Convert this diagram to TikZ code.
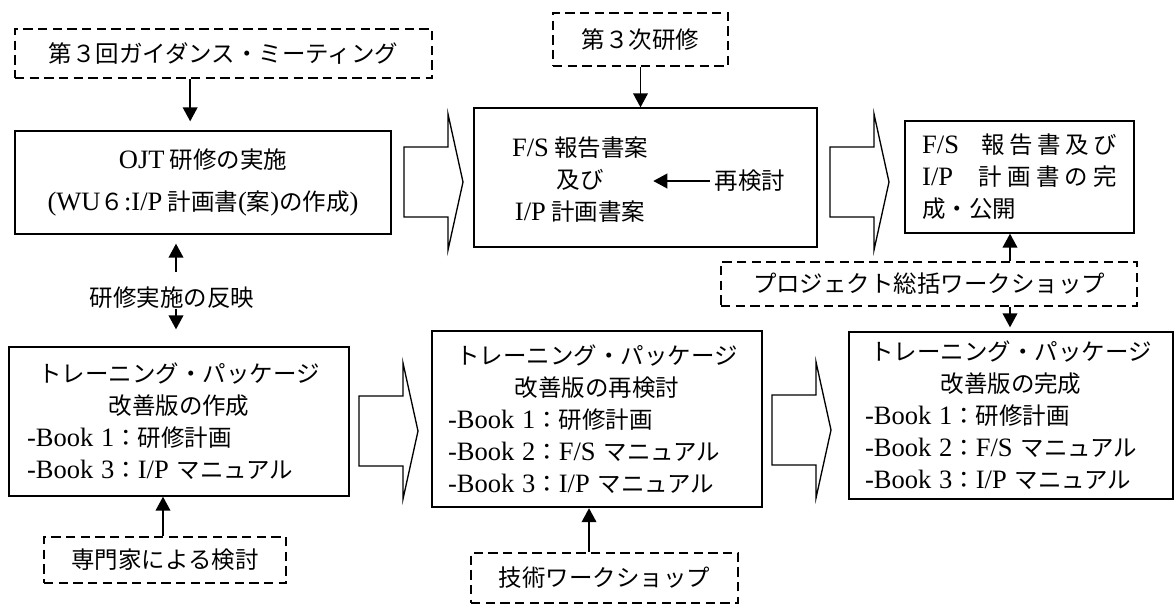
\documentclass[tikz,border=0pt]{standalone}
\usepackage{fontspec}
\setmainfont{Liberation Serif}[Scale=1.13]
\newfontfamily\jpf{Noto Sans CJK JP}
\usetikzlibrary{arrows.meta}
\newcommand{\latn}[1]{{\rmfamily #1}}
\tikzset{
  box/.style={draw, line width=1pt, align=center},
  dbox/.style={draw, line width=1.6pt, dash pattern=on 7pt off 4pt, align=center},
  arr/.style={line width=1.3pt, -{Triangle[length=10.5pt,width=11pt]}},
  blockarr/.style={draw, line width=1pt, line join=miter}
}

\begin{document}
\begin{tikzpicture}[x=0.75pt, y=-0.75pt, font=\jpf\fontsize{17.6pt}{24pt}\selectfont]
    \useasboundingbox (0,0) rectangle (1176,608);

    % upper row
    \node[dbox, minimum width=312.75pt, minimum height=36.75pt] (guide) at (223.5,53.5) {第３回ガイダンス・ミーティング};
    \node[box, minimum width=282pt, minimum height=77.25pt] (ojt) at (203,182.5) {\latn{OJT} 研修の実施\\[8pt]\latn{(WU}６\latn{:I/P} 計画書\latn{(}案\latn{)}の作成\latn{)}};
    \node[dbox, minimum width=131.25pt, minimum height=39.75pt] (third) at (640.5,39.5) {第３次研修};
    \node[box, minimum width=257.25pt, minimum height=104.25pt] (fsbox) at (645.5,177.5) {};
    \node[align=center] (fsdraft) at (580,180) {\latn{F/S} 報告書案\\及び\\\latn{I/P} 計画書案};
    \node (revise) at (750,181) {再検討};
    \node[box, minimum width=171.75pt, minimum height=84pt, text width=146pt, align=left] (final) at (1019.5,177) {%
        \makebox[\linewidth][s]{\latn{F/S}\hspace{0pt plus 5fill}報\hfill 告\hfill 書\hfill 及\hfill び}\\
        \makebox[\linewidth][s]{\latn{I/P}\hspace{0pt plus 5fill}計\hfill 画\hfill 書\hfill の\hfill 完}\\
        成・公開};
    \node[dbox, minimum width=312pt, minimum height=33pt] (project) at (929,284) {プロジェクト総括ワークショップ};

    % lower row
    \node[inner sep=0pt] (refl) at (172,298) {研修実施の反映};
    \node[box, minimum width=255pt, minimum height=111.75pt, text width=228pt, align=left] (pkg1) at (179,421.5) {%
        \makebox[\linewidth]{トレーニング・パッケージ}\\
        \makebox[\linewidth]{改善版の作成}\\
        \latn{-Book 1}：研修計画\\
        \latn{-Book 3}：\latn{I/P} マニュアル};
    \node[dbox, minimum width=181.5pt, minimum height=34.5pt] (expert) at (165,560) {専門家による検討};
    \node[box, line width=1.8pt, minimum width=247.5pt, minimum height=132pt, text width=223.5pt, align=left] (pkg2) at (597,419) {%
        \makebox[\linewidth]{トレーニング・パッケージ}\\
        \makebox[\linewidth]{改善版の再検討}\\
        \latn{-Book 1}：研修計画\\
        \latn{-Book 2}：\latn{F/S} マニュアル\\
        \latn{-Book 3}：\latn{I/P} マニュアル};
    \node[dbox, minimum width=200.25pt, minimum height=37.5pt] (tech) at (604.5,578) {技術ワークショップ};
    \node[box, minimum width=243pt, minimum height=125.25pt, text width=219pt, align=left] (pkg3) at (1011,415.5) {%
        \makebox[\linewidth]{トレーニング・パッケージ}\\
        \makebox[\linewidth]{改善版の完成}\\
        \latn{-Book 1}：研修計画\\
        \latn{-Book 2}：\latn{F/S} マニュアル\\
        \latn{-Book 3}：\latn{I/P} マニュアル};

    % hollow arrows between the stages
    \foreach \ax/\ay in {404/182, 830/182, 359/431, 772/430} {
        \draw[blockarr] (\ax,\ay-35) -- (\ax+44,\ay-35) -- (\ax+44,\ay-68) -- (\ax+59,\ay)
            -- (\ax+44,\ay+68) -- (\ax+44,\ay+35) -- (\ax,\ay+35) -- cycle;
    }

    % connectors
    \coordinate (g1) at ([xshift=-25pt]guide.south);
    \draw[arr, shorten >=6.75pt] (g1) -- (g1 |- ojt.north);
    \draw[arr] (third.south) -- (third.south |- fsbox.north);
    \draw[arr] (revise.west) -- (revise.west -| fsdraft.east);
    \coordinate (r1) at ([xshift=3pt,yshift=11pt]refl.north);
    \draw[arr, shorten >=6.75pt] (r1) -- (r1 |- ojt.south);
    \coordinate (r2) at ([xshift=3pt]refl.south);
    \draw[arr, shorten >=12.75pt] (r2) -- (r2 |- pkg1.north);
    \coordinate (e1) at ([xshift=-1.5pt]expert.north);
    \draw[arr] (e1) -- (e1 |- pkg1.south);
    \coordinate (t1) at ([xshift=-11.6pt]tech.north);
    \draw[arr] (t1) -- (t1 |- pkg2.south);
    \coordinate (p1) at ([xshift=60.75pt]project.north);
    \draw[arr] (p1) -- (p1 |- final.south);
    \coordinate (p2) at ([xshift=60.75pt]project.south);
    \draw[arr, shorten >=3pt] (p2) -- (p2 |- pkg3.north);
\end{tikzpicture}
\end{document}
